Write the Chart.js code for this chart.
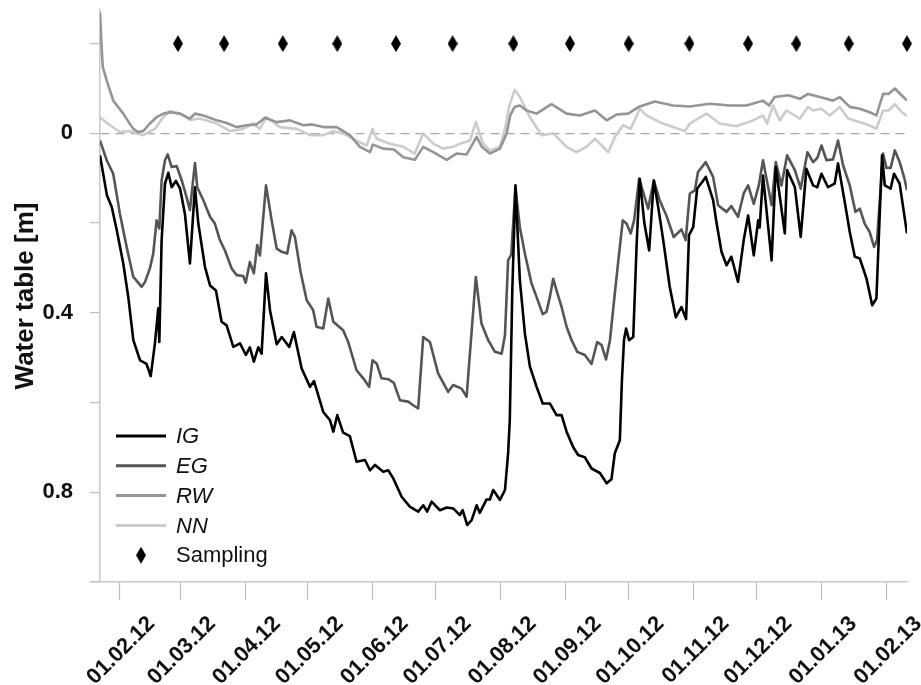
<!DOCTYPE html>
<html>
<head>
<meta charset="utf-8">
<script src="https://cdn.jsdelivr.net/npm/chart.js@4.4.1/dist/chart.umd.min.js"></script>
<style>
  html, body { margin: 0; padding: 0; background: #fff; }
</style>
</head>
<body>
<canvas id="chart" width="921" height="685"></canvas>
<script>
// x = days since 01.02.2012, y = water table below surface [m] (axis is reversed)
const monthDays = [0, 29, 60, 90, 121, 151, 182, 213, 243, 274, 304, 335, 366];
const monthLabels = ['01.02.12', '01.03.12', '01.04.12', '01.05.12', '01.06.12', '01.07.12', '01.08.12',
  '01.09.12', '01.10.12', '01.11.12', '01.12.12', '01.01.13', '01.02.13'];
const depthTicks = [-0.2, 0, 0.2, 0.4, 0.6, 0.8, 1.0];
const depthLabels = ['', '0', '', '0.4', '', '0.8', ''];

const igDays = [-9.2, -5.9, -3.6, -1.2, 1.9, 4.3, 6.7, 9.9, 13, 15, 17, 18.6, 19.1, 20.2, 21.8, 23.4, 25, 27, 29,
  31.3, 33.7, 36.1, 37.7, 40.9, 43.3, 46.1, 48.8, 51.2, 54.4, 57.6, 60.4, 62.3, 64.2, 66.3, 67.9, 70, 71.9,
  75.1, 77.5, 81.1, 83.3, 87, 91, 92.9, 97.3, 100.5, 102.1, 104, 106.8, 110, 113.2, 117.2, 119.6, 122, 125.9,
  128.3, 130.7, 134.7, 138.6, 142.6, 145, 146.9, 149, 153, 156.2, 159.3, 162.5, 163.8, 166, 168.1, 170.5,
  172, 175.2, 176.8, 178.4, 181.6, 184, 185.5, 186.3, 187.5, 189, 191.1, 193.5, 195.9, 199.1, 202, 205.4,
  208.6, 211, 213.4, 216.5, 218.9, 222.1, 225.3, 229.3, 232.5, 234.8, 236.4, 238.8, 239.8, 240.8, 241.8,
  243.2, 245.2, 246.8, 248.3, 250.5, 252.8, 255, 257.1, 259.5, 262.6, 265.5, 268.2, 270.4, 271.8, 273.8,
  275.7, 278.2, 279.8, 283.3, 284.9, 287.3, 289.7, 292, 295.2, 297.9, 300, 302.7, 304.8, 305.5, 307.1,
  311.2, 313.2, 317.5, 318.6, 322.3, 325.1, 327.8, 331, 333, 335, 338.1, 341.3, 342.9, 346.1, 348.5, 350.9,
  353.3, 356.5, 359.2, 361.2, 363.9, 365.2, 368, 369.6, 372.3, 375.8];
const igDepth = [0.049, 0.138, 0.164, 0.216, 0.29, 0.365, 0.461, 0.506, 0.514, 0.541, 0.468, 0.39, 0.465, 0.238,
  0.112, 0.088, 0.12, 0.106, 0.123, 0.179, 0.29, 0.12, 0.201, 0.298, 0.339, 0.35, 0.42, 0.428, 0.476, 0.468,
  0.494, 0.477, 0.509, 0.477, 0.491, 0.312, 0.394, 0.47, 0.454, 0.476, 0.443, 0.524, 0.565, 0.552, 0.621,
  0.639, 0.665, 0.628, 0.667, 0.675, 0.732, 0.728, 0.751, 0.739, 0.754, 0.751, 0.769, 0.81, 0.832, 0.843,
  0.829, 0.843, 0.821, 0.84, 0.834, 0.836, 0.851, 0.84, 0.873, 0.862, 0.829, 0.846, 0.816, 0.816, 0.795,
  0.817, 0.795, 0.713, 0.639, 0.35, 0.116, 0.327, 0.446, 0.52, 0.565, 0.602, 0.602, 0.628, 0.628, 0.665,
  0.699, 0.717, 0.722, 0.747, 0.757, 0.78, 0.771, 0.713, 0.684, 0.55, 0.46, 0.435, 0.461, 0.454, 0.25,
  0.101, 0.2, 0.261, 0.105, 0.164, 0.238, 0.342, 0.41, 0.387, 0.414, 0.227, 0.209, 0.123, 0.108, 0.097,
  0.149, 0.198, 0.264, 0.294, 0.275, 0.331, 0.238, 0.183, 0.272, 0.194, 0.21, 0.094, 0.283, 0.075, 0.223,
  0.082, 0.12, 0.231, 0.079, 0.116, 0.12, 0.09, 0.12, 0.112, 0.067, 0.153, 0.22, 0.275, 0.279, 0.324,
  0.383, 0.368, 0.049, 0.116, 0.123, 0.09, 0.112, 0.223];

const egDays = [-9.2, -6, -2.9, 0.3, 3.5, 6.7, 10.7, 12.3, 14.6, 16.2, 17.8, 19.1, 20.2, 21.8, 23.1, 25, 27.4,
  29.8, 32.1, 33.7, 36.1, 37.2, 40.1, 43.3, 45.6, 48, 50.4, 53.6, 56, 59.1, 60.3, 62.3, 64.2, 65.8, 67.1, 70,
  72.7, 75.1, 77.5, 80.1, 82.2, 83.8, 86.5, 89.4, 92.5, 94.1, 97.3, 99.7, 102.1, 106.8, 109.2, 113.2, 116.4,
  119.2, 120.8, 122.8, 125.1, 128.3, 131, 133.9, 137.8, 140.2, 142.6, 145, 148.2, 152.1, 156.9, 159.3, 163.3,
  165.7, 170.1, 172.8, 176, 179.2, 182.4, 184, 185.5, 187, 189, 191.1, 193.5, 196.7, 199.1, 202, 203.8, 205.4,
  207, 208.6, 211, 213.4, 215.8, 218.5, 222.1, 225.3, 228, 230.1, 232.2, 234.1, 236.4, 238, 240.2, 242, 244,
  245.6, 248, 252.3, 255, 257.8, 261, 264.5, 268.2, 270.2, 272.2, 274.6, 276.1, 279.8, 283.3, 285.7, 289.7,
  292, 295.2, 297.9, 300, 302.7, 305.1, 307.1, 311.2, 313.2, 315.9, 318.6, 322.3, 325.1, 328.3, 331, 333,
  335, 337.4, 340.5, 342.9, 345.3, 348.5, 351.2, 353.3, 355.6, 358, 360.1, 361.5, 364.4, 366, 368, 370,
  372.3, 374.6, 375.8];
const egDepth = [0.016, 0.06, 0.09, 0.179, 0.253, 0.32, 0.342, 0.331, 0.301, 0.268, 0.194, 0.212, 0.105, 0.06,
  0.047, 0.075, 0.073, 0.105, 0.142, 0.171, 0.066, 0.12, 0.149, 0.186, 0.201, 0.238, 0.261, 0.301, 0.316,
  0.318, 0.333, 0.287, 0.312, 0.249, 0.272, 0.116, 0.194, 0.257, 0.264, 0.268, 0.216, 0.231, 0.309, 0.372,
  0.394, 0.431, 0.435, 0.368, 0.42, 0.439, 0.465, 0.528, 0.546, 0.565, 0.506, 0.513, 0.546, 0.548, 0.556,
  0.595, 0.598, 0.606, 0.613, 0.454, 0.465, 0.535, 0.576, 0.561, 0.569, 0.587, 0.32, 0.424, 0.461, 0.487,
  0.491, 0.45, 0.283, 0.27, 0.12, 0.209, 0.268, 0.335, 0.365, 0.403, 0.398, 0.365, 0.324, 0.35, 0.387,
  0.431, 0.461, 0.487, 0.494, 0.514, 0.465, 0.472, 0.504, 0.461, 0.357, 0.287, 0.194, 0.201, 0.223, 0.194,
  0.101, 0.168, 0.105, 0.149, 0.183, 0.231, 0.214, 0.238, 0.134, 0.127, 0.086, 0.064, 0.097, 0.16, 0.175,
  0.162, 0.186, 0.134, 0.116, 0.157, 0.116, 0.06, 0.16, 0.064, 0.116, 0.049, 0.082, 0.123, 0.042, 0.064,
  0.055, 0.027, 0.06, 0.058, 0.016, 0.071, 0.116, 0.175, 0.168, 0.201, 0.22, 0.253, 0.238, 0.045, 0.077,
  0.077, 0.038, 0.064, 0.101, 0.127];

const rwDays = [-9.2, -8.5, -7.9, -6, -2.9, 1.9, 4.5, 6.7, 9, 11.4, 14.6, 17.8, 21, 24.2, 29, 33.7, 36.1, 40.1,
  46.5, 51.2, 56, 60.8, 65.5, 69.5, 75.1, 81.4, 87.8, 92, 97.3, 103.7, 110, 114.8, 119.6, 121, 125.9, 131,
  135.5, 141, 145, 149.8, 156.2, 160.9, 165.7, 170.5, 173, 176.8, 181.6, 184.8, 186.5, 188.6, 191.1, 194.3,
  199.1, 206.2, 213.4, 219.7, 226.9, 232.5, 237.2, 242.8, 248.3, 255.5, 264.2, 272.2, 281.7, 291.2, 299.2,
  307.1, 310, 312.7, 319.1, 324.7, 328.6, 334.2, 340.5, 343.7, 348.5, 353.3, 358, 361.2, 364.4, 367, 370,
  373.2, 375.8];
const rwDepth = [-0.27, -0.2, -0.148, -0.118, -0.073, -0.044, -0.025, -0.01, -0.003, -0.005, -0.022, -0.036,
  -0.044, -0.047, -0.044, -0.033, -0.044, -0.04, -0.029, -0.023, -0.014, -0.018, -0.02, -0.035, -0.025,
  -0.029, -0.018, -0.02, -0.014, -0.014, 0.004, 0.03, 0.042, 0.025, 0.034, 0.036, 0.053, 0.059, 0.03, 0.042,
  0.059, 0.045, 0.047, 0.008, 0.03, 0.045, 0.034, 0, -0.04, -0.059, -0.062, -0.051, -0.044, -0.065, -0.044,
  -0.04, -0.051, -0.029, -0.042, -0.044, -0.06, -0.071, -0.062, -0.06, -0.066, -0.062, -0.062, -0.073,
  -0.062, -0.081, -0.085, -0.077, -0.088, -0.081, -0.073, -0.081, -0.059, -0.055, -0.047, -0.04, -0.088,
  -0.088, -0.1, -0.085, -0.073];

const nnDays = [-9.2, -4.4, 0.3, 5.1, 11.4, 17, 21, 24.2, 29, 33.7, 38.5, 46.5, 52.8, 59.1, 63.9, 67, 70.3,
  76.6, 84.6, 91, 97.3, 102, 106.8, 113.2, 118, 120.8, 122.8, 129.2, 135.5, 141, 145, 149.8, 154.5, 159.3,
  162.5, 167.3, 170.1, 173.6, 176.8, 181.6, 184, 186, 188.6, 191.1, 195.9, 201.5, 207, 213.4, 218.1, 222.9,
  226.9, 229.3, 233.3, 236.4, 240.4, 244, 248.3, 251.5, 257.8, 264.2, 269.8, 272.2, 280.1, 286.5, 294.4,
  302.4, 307.1, 309, 311.9, 315.1, 318.3, 324.7, 328.6, 331, 335, 338.9, 343.7, 347.7, 353.3, 358, 361.2,
  364.4, 367, 370, 373.2, 375.8];
const nnDepth = [-0.036, -0.018, -0.003, -0.005, 0.004, -0.01, -0.036, -0.05, -0.044, -0.03, -0.033, -0.022,
  -0.005, -0.01, -0.022, -0.01, -0.036, -0.014, -0.01, 0.004, 0.004, -0.005, 0, 0.016, 0.027, -0.01, 0.012,
  0.023, 0.03, 0.045, 0, 0.023, 0.034, 0.03, 0.023, 0.016, -0.025, 0.023, 0.038, 0.03, -0.01, -0.06, -0.097,
  -0.081, -0.036, 0.004, 0, 0.03, 0.042, 0.03, 0.012, 0.023, 0.042, 0.008, -0.018, -0.01, -0.055, -0.04,
  -0.025, -0.014, -0.005, -0.022, -0.044, -0.022, -0.016, -0.029, -0.04, -0.022, -0.062, -0.029, -0.051,
  -0.033, -0.059, -0.051, -0.055, -0.04, -0.059, -0.033, -0.025, -0.018, -0.01, -0.051, -0.051, -0.065,
  -0.048, -0.038];

const samplingDays = [28, 50, 78, 104, 132, 159, 188, 215, 243, 272, 300, 323, 348, 375.8];
const samplingLevel = -0.2;

Chart.defaults.font.family = '"Liberation Sans", Arial, sans-serif';
Chart.defaults.color = '#111';

function diamond(w, h) {
  const c = document.createElement('canvas');
  c.width = w;
  c.height = h;
  const g = c.getContext('2d');
  g.fillStyle = '#000';
  g.beginPath();
  g.moveTo(w / 2, 0);
  g.lineTo(w, h / 2);
  g.lineTo(w / 2, h);
  g.lineTo(0, h / 2);
  g.closePath();
  g.fill();
  return c;
}
const diamondImg = diamond(10, 17);

function series(label, days, depth, color) {
  return {
    label,
    data: days.map((d, i) => ({ x: d, y: depth[i] })),
    borderColor: color,
    backgroundColor: color,
    borderWidth: 2.6,
    pointRadius: 0,
    tension: 0,
    fill: false,
    borderJoinStyle: 'round'
  };
}

// legend drawn inside the plot, lower left
const insideLegend = {
  id: 'insideLegend',
  afterDraw(chart) {
    const ctx = chart.ctx;
    const area = chart.chartArea;
    const x0 = area.left + 16;
    const rowH = 29.8;
    let y = area.bottom - 146;
    ctx.save();
    ctx.textBaseline = 'middle';
    chart.data.datasets.forEach((ds) => {
      if (ds.showLine === false) {
        ctx.drawImage(diamondImg, x0 + 25 - diamondImg.width / 2, y - diamondImg.height / 2);
        ctx.font = '22px "Liberation Sans", Arial, sans-serif';
      } else {
        ctx.strokeStyle = ds.borderColor;
        ctx.lineWidth = 3;
        ctx.beginPath();
        ctx.moveTo(x0, y);
        ctx.lineTo(x0 + 50, y);
        ctx.stroke();
        ctx.font = 'italic 22px "Liberation Sans", Arial, sans-serif';
      }
      ctx.fillStyle = '#111';
      ctx.fillText(ds.label, x0 + 60, y + 1);
      y += rowH;
    });
    // short stub of the x axis left of the y axis
    ctx.strokeStyle = '#c8c8c8';
    ctx.lineWidth = 1.5;
    ctx.beginPath();
    ctx.moveTo(area.left - 9, area.bottom);
    ctx.lineTo(area.left, area.bottom);
    ctx.stroke();
    ctx.restore();
  }
};

new Chart(document.getElementById('chart'), {
  type: 'line',
  data: {
    datasets: [
      series('IG', igDays, igDepth, '#000000'),
      series('EG', egDays, egDepth, '#555555'),
      series('RW', rwDays, rwDepth, '#959595'),
      series('NN', nnDays, nnDepth, '#cccccc'),
      {
        label: 'Sampling',
        data: samplingDays.map(d => ({ x: d, y: samplingLevel })),
        showLine: false,
        pointStyle: diamondImg,
        pointRadius: 8,
        clip: false
      }
    ]
  },
  options: {
    responsive: false,
    animation: false,
    devicePixelRatio: 1,
    events: [],
    layout: { padding: { top: 10, right: 14, left: 0, bottom: 0 } },
    plugins: { legend: { display: false }, tooltip: { enabled: false } },
    scales: {
      x: {
        type: 'linear',
        min: -9.2,
        max: 375.8,
        afterBuildTicks: (s) => { s.ticks = monthDays.map(v => ({ value: v })); },
        afterFit: (s) => { s.height = 103; s.paddingLeft = 0; s.paddingRight = 0; },
        grid: { drawOnChartArea: false, drawTicks: true, tickLength: 18, tickColor: '#bdbdbd', tickWidth: 1.2 },
        border: { color: '#c8c8c8', width: 1.5 },
        ticks: {
          autoSkip: false,
          minRotation: 45,
          maxRotation: 45,
          padding: 11,
          labelOffset: 32,
          color: '#111',
          font: { size: 22, weight: 'bold' },
          callback: (v, i) => monthLabels[i]
        }
      },
      y: {
        reverse: true,
        min: -0.275,
        max: 1.0,
        afterBuildTicks: (s) => { s.ticks = depthTicks.map(v => ({ value: v })); },
        afterFit: (s) => { s.width = 100; s.paddingTop = 0; s.paddingBottom = 0; },
        grid: {
          drawOnChartArea: true,
          color: (c) => (c.tick && c.tick.value === 0 ? '#a6a6a6' : 'rgba(0,0,0,0)'),
          lineWidth: 1.2,
          drawTicks: true,
          tickLength: 10,
          tickColor: '#bdbdbd',
          tickWidth: 1.2
        },
        border: { color: '#c8c8c8', width: 1.5, dash: [9, 6] },
        ticks: {
          padding: 17,
          color: '#111',
          font: { size: 22, weight: 'bold' },
          callback: (v, i) => depthLabels[i]
        },
        title: {
          display: true,
          text: 'Water table [m]',
          color: '#111',
          font: { size: 26, weight: 'bold' },
          padding: { top: 10, bottom: 0 }
        }
      }
    }
  },
  plugins: [insideLegend]
});
</script>
</body>
</html>
